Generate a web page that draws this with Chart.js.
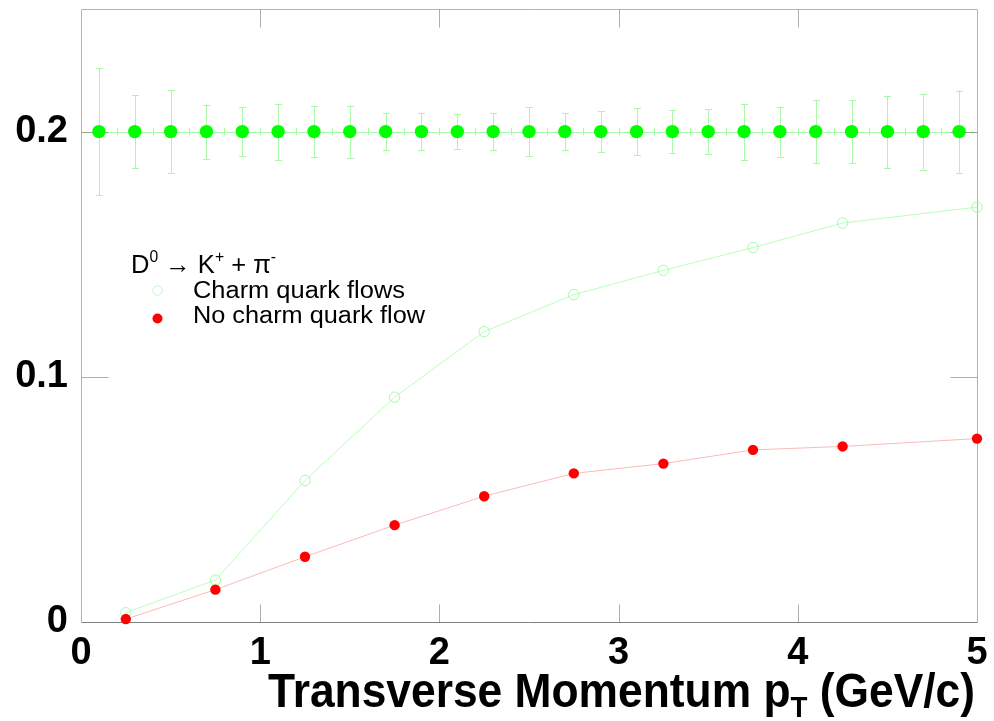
<!DOCTYPE html>
<html><head><meta charset="utf-8">
<script src="https://cdn.jsdelivr.net/npm/chart.js@4.4.0/dist/chart.umd.min.js"></script>
<style>html,body{margin:0;padding:0;background:#fff;overflow:hidden}#wrap{width:994px;height:721px;position:relative}</style>
</head><body><div id="wrap"><canvas id="c" width="994" height="721"></canvas></div>
<script>
// ---- data ----
const refX = [0.1,0.3,0.5,0.7,0.9,1.1,1.3,1.5,1.7,1.9,2.1,2.3,2.5,2.7,2.9,3.1,3.3,3.5,3.7,3.9,4.1,4.3,4.5,4.7,4.9];
const refY = [0.2,0.2,0.2,0.2,0.2,0.2,0.2,0.2,0.2,0.2,0.2,0.2,0.2,0.2,0.2,0.2,0.2,0.2,0.2,0.2,0.2,0.2,0.2,0.2,0.2];
const refYErr = [0.026,0.0148,0.0168,0.011,0.010,0.0114,0.0104,0.0106,0.0077,0.0077,0.0073,0.0075,0.010,0.0075,0.0083,0.0096,0.0088,0.0092,0.0114,0.0102,0.0128,0.0128,0.0147,0.0155,0.0167];
const refXErr = [0.1,0.1,0.1,0.1,0.1,0.1,0.1,0.1,0.1,0.1,0.1,0.1,0.1,0.1,0.1,0.1,0.1,0.1,0.1,0.1,0.1,0.1,0.1,0.1,0.1];
const curveX = [0.25,0.75,1.25,1.75,2.25,2.75,3.25,3.75,4.25,5.0];
const charmFlows = [0.0038,0.0171,0.0577,0.0917,0.1184,0.1335,0.1434,0.1527,0.1627,0.1692];
const noCharmFlow = [0.0012,0.0132,0.0266,0.0395,0.0513,0.0606,0.0646,0.0702,0.0716,0.0748];
const xTicks = [0,1,2,3,4,5];
const yTicks = [0,0.1,0.2];
const xTickLabels = ['0','1','2','3','4','5'];
const yTickLabels = ['0','0.1','0.2'];
const legendLabels = ['Charm quark flows','No charm quark flow'];
const xTitle = ['Transverse Momentum p','T',' (GeV/c)'];

const FONT = "'Liberation Sans', Arial, sans-serif";

function drawParts(ctx, parts, x, baseline, targetWidth) {
  ctx.save();
  let total = 0;
  parts.forEach(p => { ctx.font = p.font; total += ctx.measureText(p.t).width; });
  const s = targetWidth ? targetWidth / total : 1;
  ctx.translate(x, baseline);
  ctx.scale(s, 1);
  ctx.textBaseline = 'alphabetic';
  ctx.textAlign = 'left';
  ctx.fillStyle = '#000';
  let cx = 0;
  parts.forEach(p => { ctx.font = p.font; ctx.fillText(p.t, cx, p.dy || 0); cx += ctx.measureText(p.t).width; });
  ctx.restore();
}

const framePlugin = {
  id: 'frame',
  beforeDatasetsDraw(chart) {
    const {ctx, chartArea: a, scales: {x, y}} = chart;
    ctx.save();
    // error bars of the reference series
    ctx.strokeStyle = '#a8f8a8';
    ctx.lineWidth = 1;
    for (let i = 0; i < refX.length; i++) {
      const px = Math.round(x.getPixelForValue(refX[i])) + 0.5;
      const py = y.getPixelForValue(refY[i]);
      const yt = y.getPixelForValue(refY[i] + refYErr[i]);
      const yb = y.getPixelForValue(refY[i] - refYErr[i]);
      const xl = x.getPixelForValue(refX[i] - refXErr[i]);
      const xr = x.getPixelForValue(refX[i] + refXErr[i]);
      ctx.beginPath();
      ctx.moveTo(px, yt); ctx.lineTo(px, yb);
      ctx.moveTo(px - 3.5, Math.round(yt) + 0.5); ctx.lineTo(px + 3.5, Math.round(yt) + 0.5);
      ctx.moveTo(px - 3.5, Math.round(yb) + 0.5); ctx.lineTo(px + 3.5, Math.round(yb) + 0.5);
      ctx.moveTo(xl, Math.round(py) + 0.5); ctx.lineTo(xr, Math.round(py) + 0.5);
      ctx.moveTo(Math.round(xl) + 0.5, py - 3.5); ctx.lineTo(Math.round(xl) + 0.5, py + 3.5);
      ctx.moveTo(Math.round(xr) + 0.5, py - 3.5); ctx.lineTo(Math.round(xr) + 0.5, py + 3.5);
      ctx.stroke();
    }
    // frame
    const L = Math.round(a.left) + 0.5, R = Math.round(a.right) + 0.5, T = Math.round(a.top) + 0.5, B = Math.round(a.bottom) + 0.5;
    ctx.strokeStyle = '#b4b4b4';
    ctx.beginPath();
    ctx.moveTo(L, B); ctx.lineTo(L, T); ctx.lineTo(R, T); ctx.lineTo(R, B);
    ctx.stroke();
    ctx.strokeStyle = '#808080';
    ctx.beginPath(); ctx.moveTo(L, B); ctx.lineTo(R, B); ctx.stroke();
    // inner tick marks
    ctx.strokeStyle = 'rgba(120,120,120,0.6)';
    ctx.beginPath();
    xTicks.forEach(v => {
      if (v <= x.min || v >= x.max) return;
      const px = Math.round(x.getPixelForValue(v)) + 0.5;
      ctx.moveTo(px, B); ctx.lineTo(px, B - 18);
      ctx.moveTo(px, T); ctx.lineTo(px, T + 18);
    });
    yTicks.forEach(v => {
      if (v <= y.min || v >= y.max) return;
      const py = Math.round(y.getPixelForValue(v)) + 0.5;
      ctx.moveTo(L, py); ctx.lineTo(L + 27, py);
      ctx.moveTo(R, py); ctx.lineTo(R - 27, py);
    });
    ctx.stroke();
    ctx.restore();
  },
  afterDraw(chart) {
    const {ctx} = chart;
    // axis title
    drawParts(ctx, [
      {t: xTitle[0], font: 'bold 48px ' + FONT},
      {t: xTitle[1], font: 'bold 30px ' + FONT, dy: 10},
      {t: xTitle[2], font: 'bold 48px ' + FONT}
    ], 268, 707, 707);
    // legend title
    drawParts(ctx, [
      {t: 'D', font: '26px ' + FONT},
      {t: '0', font: '16px ' + FONT, dy: -11},
      {t: ' \u2192 ', font: '26px ' + FONT},
      {t: 'K', font: '26px ' + FONT},
      {t: '+', font: '16px ' + FONT, dy: -11},
      {t: ' + ', font: '26px ' + FONT},
      {t: '\u03C0', font: '26px ' + FONT},
      {t: '-', font: '16px ' + FONT, dy: -11}
    ], 131, 273, 145);
    drawParts(ctx, [{t: legendLabels[0], font: '23px ' + FONT}], 193, 298, 212);
    drawParts(ctx, [{t: legendLabels[1], font: '23px ' + FONT}], 193, 323, 232);
    ctx.save();
    ctx.strokeStyle = '#b4ffb4'; ctx.lineWidth = 1;
    ctx.beginPath(); ctx.arc(157.5, 290.5, 4.7, 0, Math.PI * 2); ctx.stroke();
    ctx.fillStyle = '#ff0000';
    ctx.beginPath(); ctx.arc(157.5, 318.5, 5, 0, Math.PI * 2); ctx.fill();
    ctx.restore();
  }
};

new Chart(document.getElementById('c'), {
  type: 'scatter',
  data: {
    datasets: [
      {
        label: 'reference',
        data: refX.map((v, i) => ({x: v, y: refY[i]})),
        pointRadius: 6.7, pointBackgroundColor: '#00ff00', pointBorderColor: '#00ff00', pointBorderWidth: 0,
        showLine: false, order: 3
      },
      {
        label: legendLabels[0],
        data: curveX.map((v, i) => ({x: v, y: charmFlows[i]})),
        showLine: true, borderColor: '#b8ffb8', borderWidth: 1,
        pointRadius: 5.2, pointBackgroundColor: 'rgba(255,255,255,0)', pointBorderColor: '#a8f8a8', pointBorderWidth: 1,
        order: 2
      },
      {
        label: legendLabels[1],
        data: curveX.map((v, i) => ({x: v, y: noCharmFlow[i]})),
        showLine: true, borderColor: '#ffb8b8', borderWidth: 1,
        pointRadius: 5.2, pointBackgroundColor: '#ff0000', pointBorderColor: '#ff0000', pointBorderWidth: 0,
        order: 1
      }
    ]
  },
  options: {
    responsive: false, animation: false, devicePixelRatio: 1,
    clip: false,
    layout: {padding: {top: 9, right: 17, left: 0, bottom: 0}},
    plugins: {legend: {display: false}, tooltip: {enabled: false}, title: {display: false}},
    scales: {
      x: {
        type: 'linear', min: 0, max: 5,
        afterBuildTicks: s => { s.ticks = xTicks.map(v => ({value: v})); },
        afterFit: s => { s.height = 99; s.paddingLeft = 0; s.paddingRight = 0; },
        grid: {display: false, drawTicks: false},
        border: {display: false},
        ticks: {
          callback: (v) => xTickLabels[xTicks.indexOf(v)],
          font: {family: FONT, size: 38, weight: 'bold'}, color: '#000', padding: 9, maxRotation: 0, autoSkip: false
        }
      },
      y: {
        type: 'linear', min: 0, max: 0.25,
        afterBuildTicks: s => { s.ticks = yTicks.map(v => ({value: v})); },
        afterFit: s => { s.width = 81; s.paddingTop = 0; s.paddingBottom = 0; },
        grid: {display: false, drawTicks: false},
        border: {display: false},
        ticks: {
          callback: (v) => yTickLabels[yTicks.indexOf(v)],
          font: {family: FONT, size: 38, weight: 'bold'}, color: '#000', padding: 13
        }
      }
    }
  },
  plugins: [framePlugin]
});
</script>
</body></html>
